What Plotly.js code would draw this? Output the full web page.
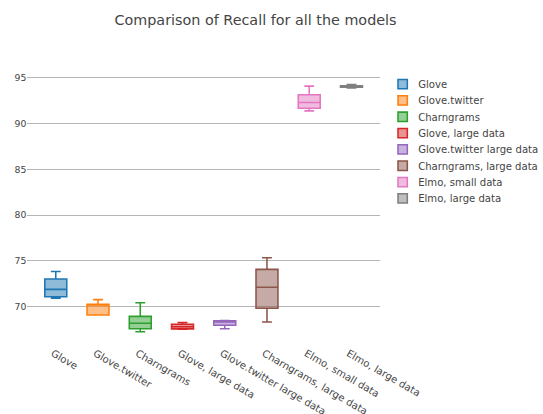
<!DOCTYPE html>
<html>
<head>
<meta charset="utf-8">
<script src="https://cdn.plot.ly/plotly-3.0.1.min.js"></script>
<style>
  html, body { margin: 0; padding: 0; background: #fff; overflow: hidden; }
  #frame { width: 543px; height: 414px; overflow: hidden; position: relative; }
  /* the figure is laid out at 700x534 and shown at 543px wide */
  #chart { width: 720px; height: 534px; transform: scale(0.7757); transform-origin: 0 0; }
</style>
</head>
<body>
<div id="frame"><div id="chart"></div></div>
<script>
// Model names (one box per model)
const models = [
  "Glove", "Glove.twitter", "Charngrams", "Glove, large data",
  "Glove.twitter large data", "Charngrams, large data",
  "Elmo, small data", "Elmo, large data"
];

// Recall summary statistics per model
const lowerWhisker = [70.92, 69.10, 67.27, 67.55, 67.60, 68.33, 91.40, 93.90];
const q1Values     = [71.09, 69.10, 67.60, 67.58, 67.98, 69.83, 91.69, 93.97];
const medianValues = [71.90, 70.20, 68.19, 67.82, 68.33, 72.12, 92.31, 94.05];
const q3Values     = [73.02, 70.28, 68.95, 68.08, 68.48, 74.08, 93.15, 94.15];
const upperWhisker = [73.86, 70.78, 70.44, 68.27, 68.50, 75.35, 94.10, 94.28];

const colors = ["#1f77b4", "#ff7f0e", "#2ca02c", "#d62728",
                "#9467bd", "#8c564b", "#e377c2", "#7f7f7f"];

const FONT = "DejaVu Sans, Verdana, sans-serif";

const traces = models.map((name, i) => ({
  type: "box",
  name: name,
  x: [name],
  q1: [q1Values[i]],
  median: [medianValues[i]],
  q3: [q3Values[i]],
  lowerfence: [lowerWhisker[i]],
  upperfence: [upperWhisker[i]],
  width: 0.52,
  whiskerwidth: 0.45,
  legendgroup: "m" + i,
  marker: { color: colors[i] },
  line: { color: colors[i], width: 2 },
  hoverinfo: "y"
}));

const layout = {
  width: 720,
  height: 534,
  margin: { l: 35, r: 230, t: 91, b: 89, autoexpand: false },
  paper_bgcolor: "#fff",
  plot_bgcolor: "#fff",
  font: { family: FONT, size: 12, color: "#444" },
  title: {
    text: "Comparison of Recall for all the models",
    font: { family: FONT, size: 18.5, color: "#444" },
    x: 0.4575, xref: "container", xanchor: "center",
    y: 0.9517, yref: "container", yanchor: "middle"
  },
  showlegend: true,
  legend: {
    font: { family: FONT, size: 13, color: "#444" },
    traceorder: "grouped",
    tracegroupgap: 1.15,
    x: 1.02,
    y: 0.993,
    yanchor: "top"
  },
  xaxis: {
    type: "category",
    categoryarray: models,
    showgrid: false,
    zeroline: false,
    showline: false,
    tickangle: 30,
    ticklabelshift: -4,
    tickfont: { family: FONT, size: 13, color: "#444" }
  },
  yaxis: {
    range: [65.8, 95.8],
    tickvals: [70, 75, 80, 85, 90, 95],
    showgrid: true,
    gridcolor: "#a0a0a0",
    gridwidth: 1,
    zeroline: false,
    showline: false,
    tickfont: { family: FONT, size: 12, color: "#444" }
  }
};

Plotly.newPlot("chart", traces, layout, { displayModeBar: false, staticPlot: true });
</script>
</body>
</html>
